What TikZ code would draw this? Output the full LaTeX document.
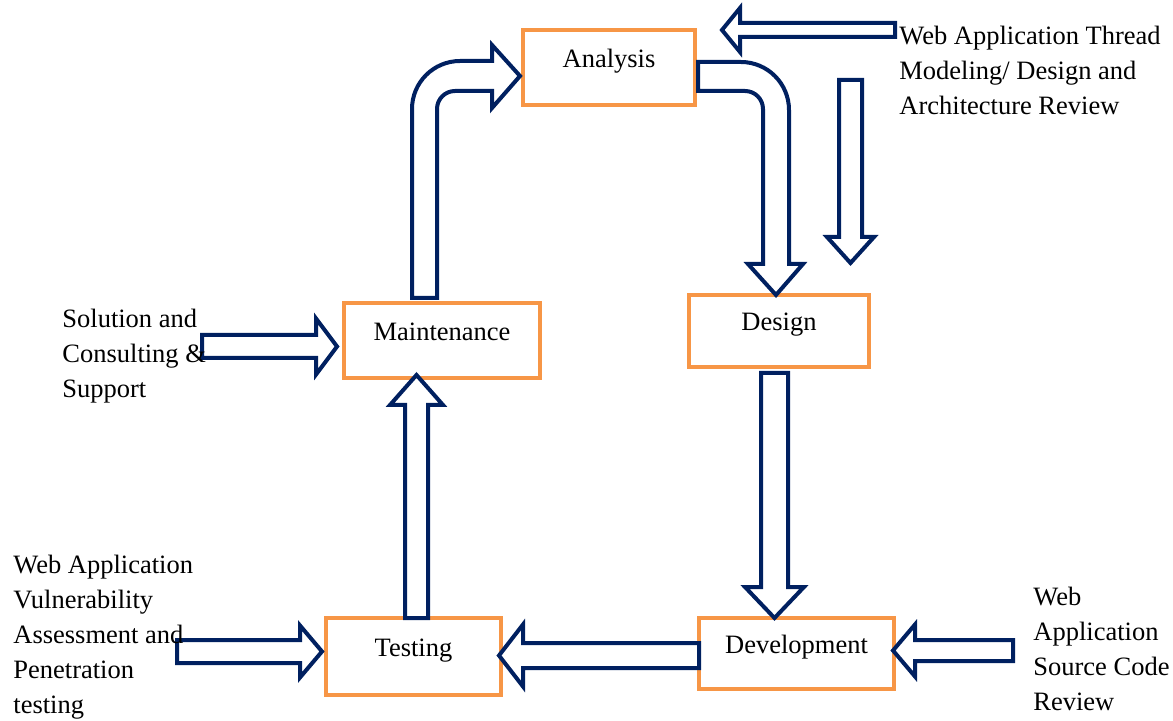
\documentclass[tikz,border=0pt]{standalone}
\usepackage{fontspec}
\setmainfont{Liberation Serif}
\usepackage{tikz}
\definecolor{navy}{RGB}{0,32,96}
\definecolor{amber}{RGB}{247,150,70}
\newcommand{\labelfont}{\fontsize{13.25pt}{17.5pt}\selectfont}
% straight hollow arrow: start, angle, length, shaft half width, head half width, head length
\newcommand{\hollowarrow}[6]{
  \draw[blockarrow, shift={(#1)}, rotate=#2] (0,-#4) -- ({#3-#6},-#4) -- ({#3-#6},-#5) -- (#3,0)
    -- ({#3-#6},#5) -- ({#3-#6},#4) -- (0,#4) -- cycle;
}
\tikzset{
  stage/.style={draw=amber, line width=2.25pt, inner sep=0pt, text height=17pt, text depth=17pt, font=\labelfont},
  blockarrow/.style={draw=navy, line width=2pt, fill=white},
  note/.style={anchor=base west, align=left, inner sep=0pt, font=\labelfont}
}
\begin{document}
\begin{tikzpicture}[x=0.5pt,y=0.5pt]
\useasboundingbox (0,0) rectangle (1173,-721);
% the five stages
\node[stage, minimum width=86pt, minimum height=37.5pt] (analysis) at (609,-67.5) {Analysis};
\node[stage, minimum width=90pt, minimum height=36pt] (design) at (779,-331) {Design};
\node[stage, minimum width=98pt, minimum height=37.5pt] (maintenance) at (442,-340.5) {Maintenance};
\node[stage, minimum width=87.5pt, minimum height=38.5pt] (testing) at (413.5,-656.5) {Testing};
\node[stage, minimum width=97.5pt, minimum height=35.5pt] (development) at (796.5,-653.5) {Development};
% bent arrows round the top
\draw[blockarrow] (412,-298) -- (412,-109) arc[start angle=180, end angle=90, radius=24pt] -- (492,-61)
  -- (492,-45) -- (520,-76) -- (492,-108) -- (492,-91) -- (455,-91)
  arc[start angle=90, end angle=180, radius=9pt] -- (437,-298) -- cycle;
\draw[blockarrow] (698,-62) -- (741,-62) arc[start angle=90, end angle=0, radius=24pt] -- (789,-264)
  -- (803,-264) -- (776,-295) -- (748,-264) -- (763,-264) -- (763,-109)
  arc[start angle=0, end angle=90, radius=9pt] -- (698,-91) -- cycle;
% straight arrows
\hollowarrow{774.5,-373}{-90}{245}{13.5}{29.5}{31}
\hollowarrow{699,-655.5}{180}{200}{12.5}{31}{24}
\hollowarrow{416.5,-618}{90}{243}{11.5}{26.5}{30}
\hollowarrow{895,-30}{180}{173}{7}{22}{18}
\hollowarrow{850.5,-80}{-90}{183}{11.5}{23.5}{26}
\hollowarrow{202,-346.5}{0}{135}{11.5}{28}{21}
\hollowarrow{1013,-650.5}{180}{120}{10.5}{26}{22}
\hollowarrow{177,-651.5}{0}{145}{11.5}{26}{22}
% side notes (base = last line)
\node[note] (threat) at (899,-115) {Web Application Thread\\Modeling/ Design and\\Architecture Review};
\node[note] (support) at (62,-398) {Solution and\\Consulting \&\\Support};
\node[note] (vuln) at (13,-713) {Web Application\\Vulnerability\\Assessment and\\Penetration\\testing};
\node[note] (review) at (1033,-710) {Web\\Application\\Source Code\\Review};
\end{tikzpicture}
\end{document}
